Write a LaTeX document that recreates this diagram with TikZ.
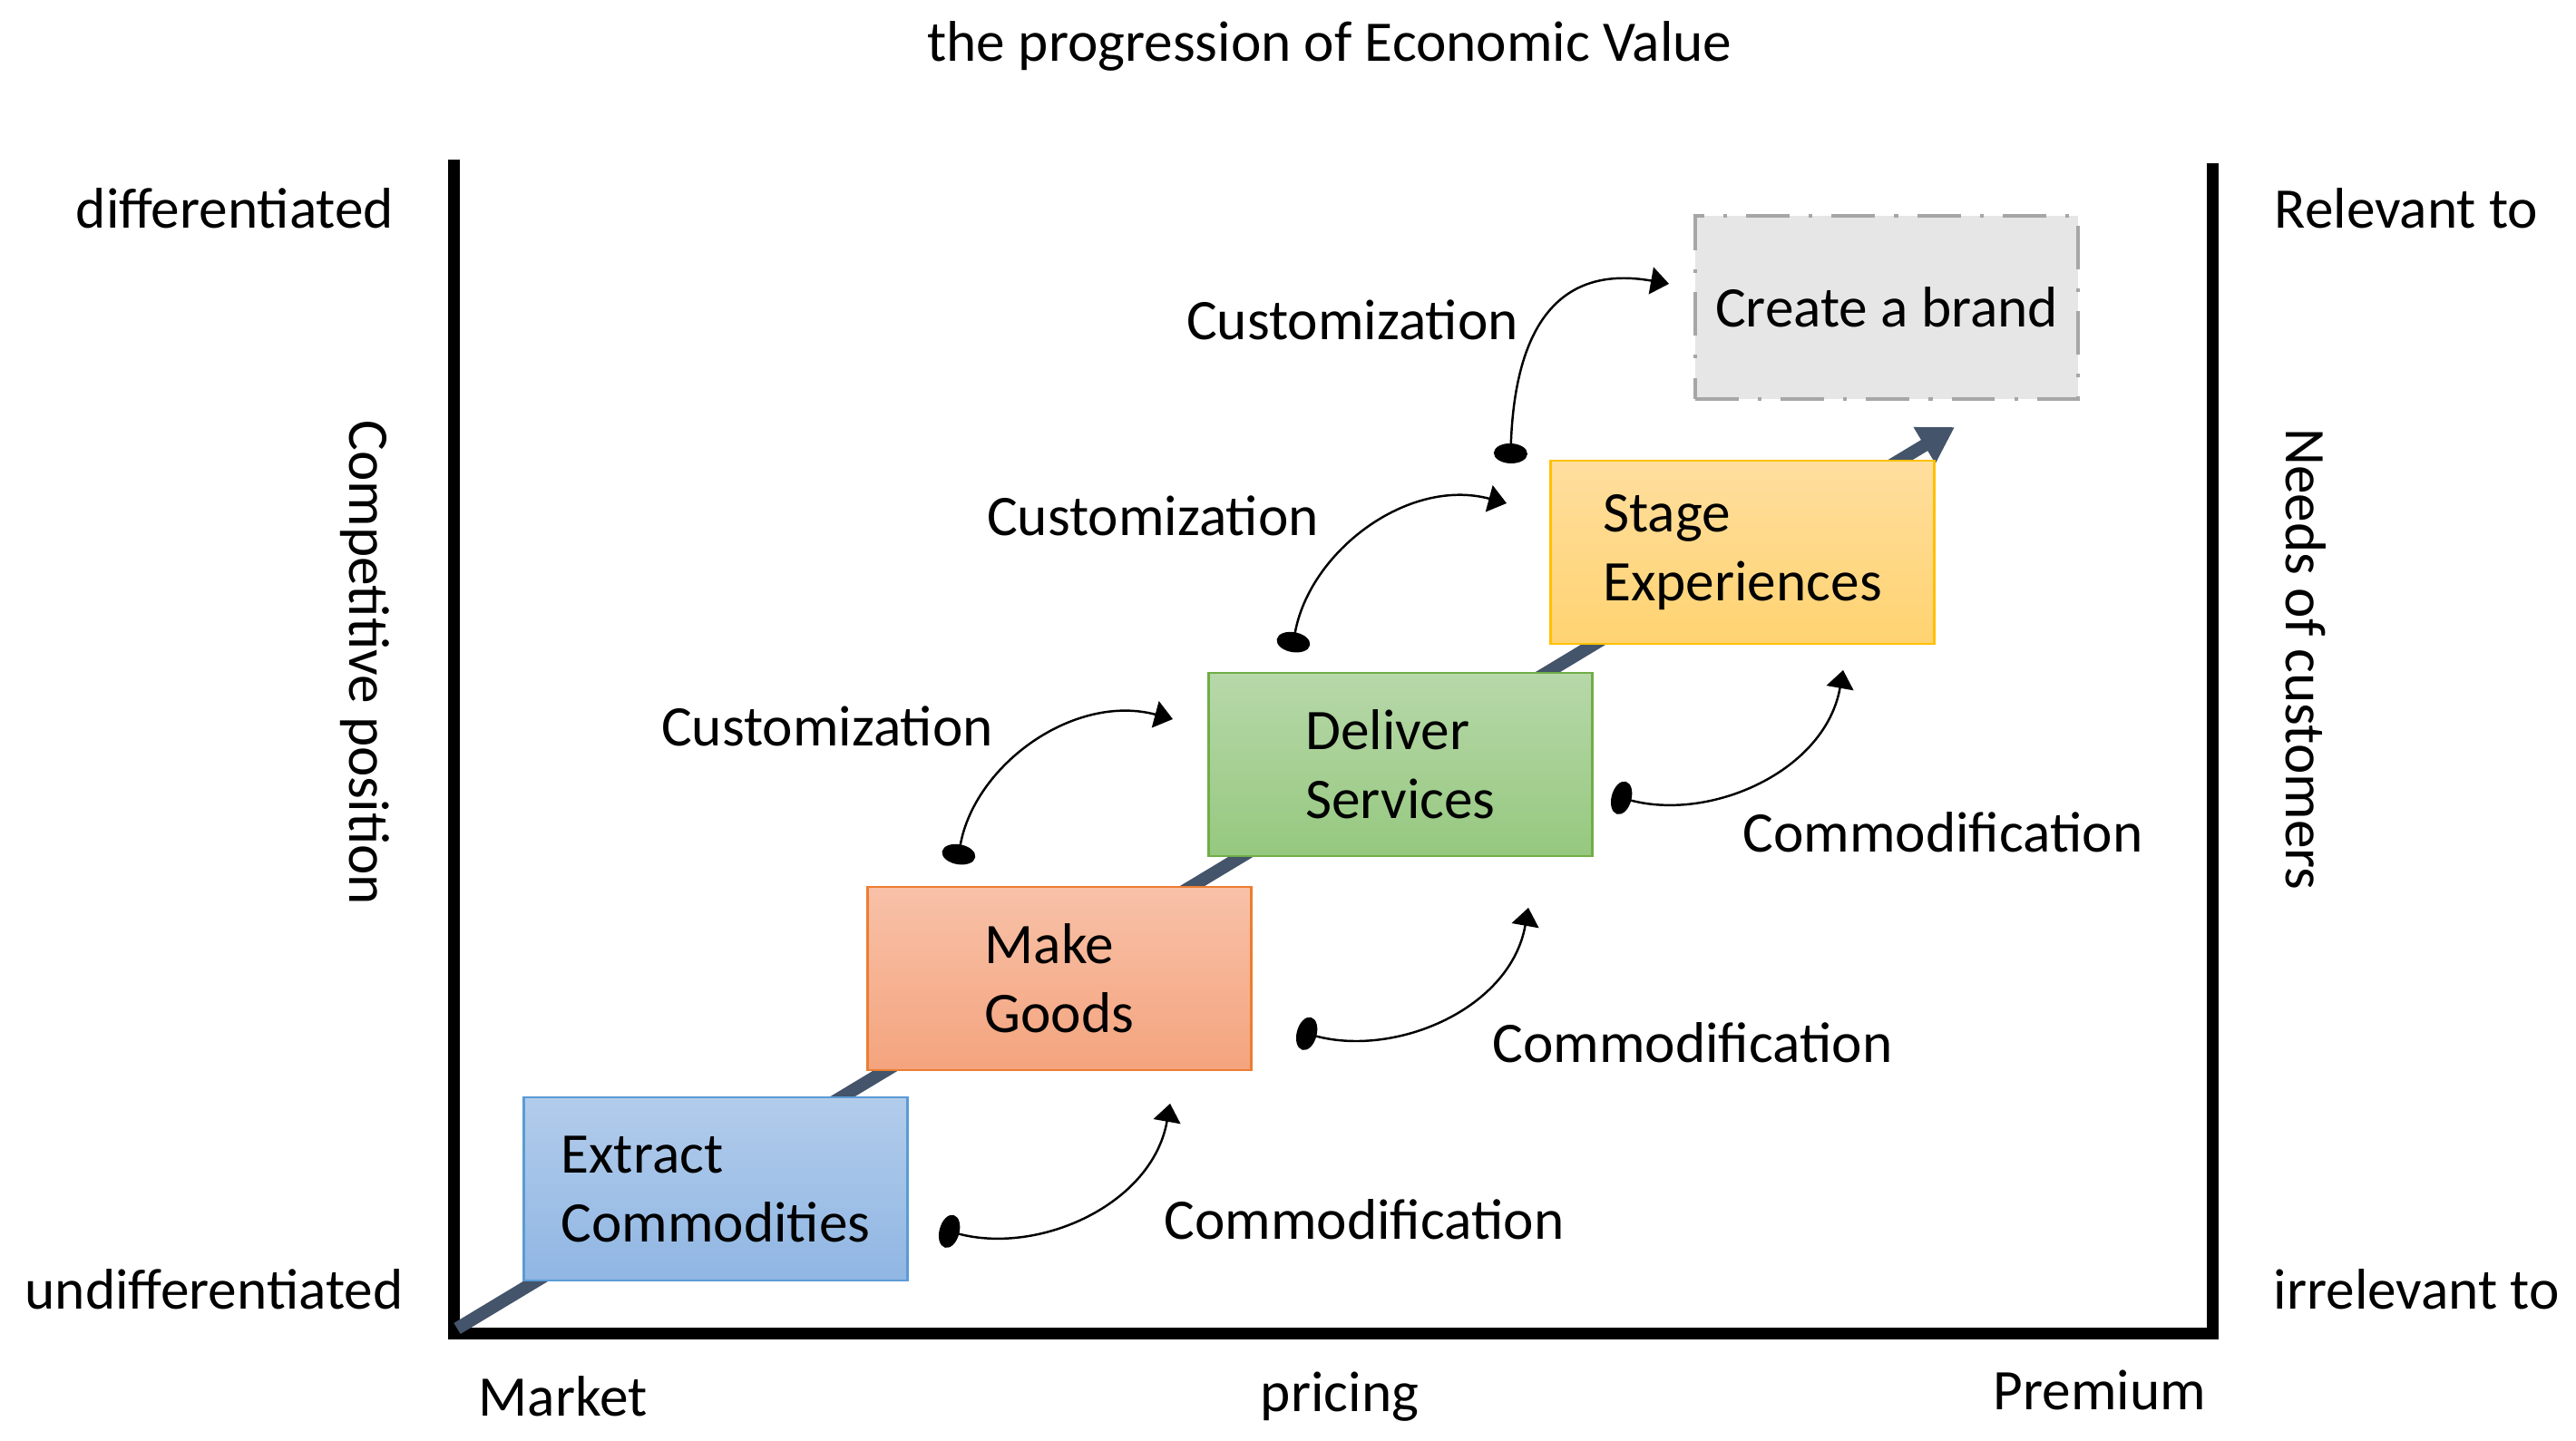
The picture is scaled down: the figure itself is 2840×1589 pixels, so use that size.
\documentclass[tikz,border=0pt]{standalone}
\usepackage{fontspec}
\setmainfont{Carlito}
\usepackage{tikz}
\usetikzlibrary{arrows.meta}

\definecolor{slate}{RGB}{68,84,106}
\definecolor{blueTop}{RGB}{178,204,235}
\definecolor{blueBot}{RGB}{144,182,227}
\definecolor{blueLine}{RGB}{91,155,213}
\definecolor{orangeTop}{RGB}{248,193,168}
\definecolor{orangeBot}{RGB}{244,164,126}
\definecolor{orangeLine}{RGB}{237,125,49}
\definecolor{greenTop}{RGB}{183,216,170}
\definecolor{greenBot}{RGB}{150,200,127}
\definecolor{greenLine}{RGB}{112,173,71}
\definecolor{yellowTop}{RGB}{255,222,158}
\definecolor{yellowBot}{RGB}{255,211,113}
\definecolor{yellowLine}{RGB}{255,192,0}
\definecolor{brandFill}{RGB}{230,230,230}
\definecolor{brandLine}{RGB}{166,166,166}

\begin{document}
\begin{tikzpicture}[x=0.01cm,y=0.01cm,
	every node/.style={font=\fontsize{18}{21.6}\selectfont, inner sep=0pt},
	axis/.style={line width=3.7pt, line join=miter},
	stagebox/.style={draw, line width=0.8pt, minimum width=4.22cm, minimum height=2.02cm, align=left},
	turn/.style={line width=0.7pt, {Ellipse[length=2.2mm,width=3.7mm]}-{Triangle[length=2mm,width=3mm]}},
	]
	\useasboundingbox (0,0) rectangle (2840,1589);

	\node[anchor=base] at (1466,1521) (title) {the progression of Economic Value};

	\coordinate (ytop) at (500,1413);
	\coordinate (orig) at (500,118);
	\coordinate (xend) at (2439,118);
	\coordinate (rtop) at (2439,1409);
	\draw[axis] (ytop) -- (orig) -- (xend) -- (rtop);

	\node[anchor=base] at (259,1337) (diff) {differentiated};
	\node[anchor=base] at (236,145) (undiff) {undifferentiated};
	\node[anchor=base west] at (2507,1337) (rel) {Relevant to};
	\node[anchor=base west] at (2506,145) (irrel) {irrelevant to};
	\node[anchor=base west] at (527,27) (market) {Market};
	\node[anchor=base] at (1477,32) (pricing) {pricing};
	\node[anchor=base] at (2315,34) (premium) {Premium};
	\node[anchor=base, rotate=-90] at (385,858) (comp) {Competitive position};
	\node[anchor=base, rotate=-90] at (2520,862) (needs) {Needs of customers};

	\coordinate (dstart) at (504,124);
	\coordinate (dend) at (2155,1118);
	\draw[slate, line width=4pt, -{Triangle[length=3.9mm,width=4.4mm]}] (dstart) -- (dend);

	\node[stagebox, top color=blueTop, bottom color=blueBot, draw=blueLine] at (789,278) (extract) {Extract\\Commodities};
	\node[stagebox, top color=orangeTop, bottom color=orangeBot, draw=orangeLine] at (1168,510) (goods) {Make\\Goods};
	\node[stagebox, top color=greenTop, bottom color=greenBot, draw=greenLine] at (1544,746) (services) {Deliver\\Services};
	\node[stagebox, top color=yellowTop, bottom color=yellowBot, draw=yellowLine] at (1921,980) (exper) {Stage\\Experiences};
	\node[stagebox, fill=brandFill, draw=brandLine, line width=1.3pt, dash pattern=on 13.6pt off 6pt on 1.2pt off 6pt] at (2080,1250) (brand) {Create a brand};

	\coordinate (c1s) at (1055,636);
	\coordinate (c1e) at (1293,796);
	\coordinate (c2s) at (1424,870);
	\coordinate (c2e) at (1661,1034);
	\coordinate (c3s) at (1665,1078);
	\coordinate (c3e) at (1840,1276);
	\path[turn] (c1s) edge[out=80,in=165] (c1e);
	\path[turn] (c2s) edge[out=80,in=165] (c2e);
	\path[turn] (c3s) edge[out=88,in=170,looseness=1.3] (c3e);
	\node[anchor=base] at (912,766) (cust1) {Customization};
	\node[anchor=base] at (1271,998) (cust2) {Customization};
	\node[anchor=base] at (1491,1214) (cust3) {Customization};

	\coordinate (m1s) at (1036,234);
	\coordinate (m1e) at (1290,372);
	\coordinate (m2s) at (1430,452);
	\coordinate (m2e) at (1685,588);
	\coordinate (m3s) at (1777,712);
	\coordinate (m3e) at (2032,850);
	\path[turn] (m1s) edge[out=-15,in=-100] (m1e);
	\path[turn] (m2s) edge[out=-15,in=-100] (m2e);
	\path[turn] (m3s) edge[out=-15,in=-100] (m3e);
	\node[anchor=base] at (1504,222) (comm1) {Commodification};
	\node[anchor=base] at (1866,417) (comm2) {Commodification};
	\node[anchor=base] at (2142,649) (comm3) {Commodification};
\end{tikzpicture}
\end{document}
